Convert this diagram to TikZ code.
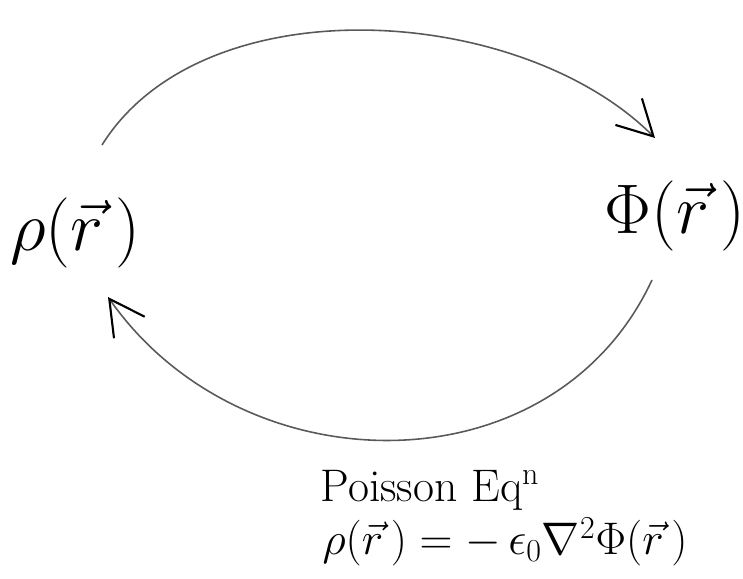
\RequirePackage{fix-cm}
\documentclass[tikz,border=0pt]{standalone}
\usepackage{amsmath,amssymb}
\usepackage{tikz}
\usetikzlibrary{arrows.meta,calc,positioning}

\tikzset{
  bigsym/.style={font=\fontsize{40}{46}\selectfont},
  eqtext/.style={font=\fontsize{26}{30}\selectfont},
  loop arc/.style={draw=black!65, line width=0.9pt,
    -{Straight Barb[length=0.7cm,width=0.75cm,line width=1.2pt,color=black]}}
}

\begin{document}
\begin{tikzpicture}[x=0.02cm,y=0.02cm]
  \useasboundingbox (0,0) rectangle (743,578);

  \node[bigsym] (rho) at (75,345) {$\rho(\vec{r}\,)$};
  \node[bigsym] (phi) at (675,362) {$\Phi(\vec{r}\,)$};

  % arc end points above and below the two fields
  \coordinate (rhoTop) at (102,433);
  \coordinate (phiTop) at (655,440);
  \coordinate (phiBot) at (652,298);
  \coordinate (rhoBot) at (108,281);

  \draw[loop arc] (rhoTop) to[out=58,in=135,looseness=0.88] (phiTop);
  \draw[loop arc] (phiBot) to[out=245,in=305,looseness=1.1] (rhoBot);

  \node[eqtext] (poisson) at (430,88) {Poisson Eq$^{\mathrm{n}}$};
  \node[eqtext] (eqn) at (505,36)
    {$\rho(\vec{r}\,) = -\,\epsilon_0\nabla^2\Phi(\vec{r}\,)$};
\end{tikzpicture}
\end{document}
